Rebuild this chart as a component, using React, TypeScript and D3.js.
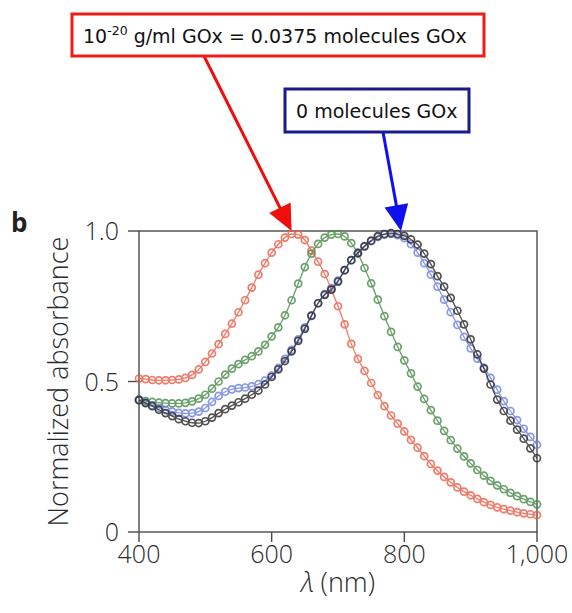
import { useRef, useEffect } from 'react'
import * as d3 from 'd3'

// wavelength grid, nm
const wavelengths = d3.range(400, 1001, 10)

// 10^-20 g/ml GOx (0.0375 molecules)
const redValues = [
  0.51, 0.508, 0.505, 0.504, 0.504, 0.505, 0.507, 0.512, 0.522, 0.54,
  0.565, 0.593, 0.624, 0.658, 0.692, 0.73, 0.77, 0.812, 0.855, 0.893,
  0.928, 0.956, 0.978, 0.99, 0.988, 0.97, 0.935, 0.898, 0.857, 0.806,
  0.75, 0.69, 0.625, 0.575, 0.535, 0.495, 0.455, 0.418, 0.387, 0.36,
  0.334, 0.306, 0.28, 0.252, 0.226, 0.204, 0.183, 0.165, 0.148, 0.134,
  0.122, 0.11, 0.099, 0.09, 0.082, 0.076, 0.071, 0.066, 0.062, 0.059,
  0.056,
]

const greenValues = [
  0.44, 0.435, 0.432, 0.43, 0.428, 0.427, 0.427, 0.429, 0.434, 0.443,
  0.456, 0.476, 0.5, 0.523, 0.543, 0.558, 0.572, 0.584, 0.6, 0.622,
  0.65, 0.68, 0.72, 0.77, 0.825, 0.88, 0.925, 0.957, 0.978, 0.988,
  0.99, 0.982, 0.96, 0.925, 0.877, 0.826, 0.772, 0.717, 0.665, 0.615,
  0.57, 0.527, 0.483, 0.442, 0.405, 0.37, 0.336, 0.305, 0.277, 0.251,
  0.228, 0.206, 0.187, 0.17, 0.155, 0.142, 0.13, 0.119, 0.109, 0.1,
  0.092,
]

const blueValues = [
  0.44, 0.43, 0.42, 0.412, 0.405, 0.4, 0.396, 0.394, 0.395, 0.4,
  0.412, 0.432, 0.452, 0.466, 0.474, 0.478, 0.48, 0.484, 0.491, 0.503,
  0.52, 0.545, 0.575, 0.605, 0.64, 0.68, 0.72, 0.76, 0.79, 0.81,
  0.835, 0.87, 0.903, 0.927, 0.948, 0.966, 0.98, 0.988, 0.99, 0.986,
  0.976, 0.956, 0.928, 0.893, 0.855, 0.815, 0.772, 0.73, 0.688, 0.648,
  0.61, 0.576, 0.546, 0.512, 0.473, 0.435, 0.402, 0.372, 0.343, 0.316,
  0.29,
]

const blackValues = [
  0.438, 0.428, 0.418, 0.406, 0.395, 0.385, 0.375, 0.368, 0.363, 0.362,
  0.368, 0.38, 0.395, 0.408, 0.42, 0.431, 0.443, 0.456, 0.47, 0.49,
  0.515, 0.54, 0.568, 0.6, 0.635, 0.675, 0.718, 0.76, 0.788, 0.805,
  0.832, 0.87, 0.903, 0.927, 0.95, 0.968, 0.983, 0.99, 0.993, 0.99,
  0.984, 0.972, 0.955, 0.925, 0.89, 0.85, 0.815, 0.778, 0.735, 0.69,
  0.64, 0.59, 0.543, 0.49, 0.44, 0.402, 0.37, 0.34, 0.31, 0.278,
  0.245,
]

const series = [
  { name: 'red', values: redValues, color: '#ee5e48' },
  { name: 'green', values: greenValues, color: '#4b8c4b' },
  { name: 'blue', values: blueValues, color: '#7080e2' },
  { name: 'black', values: blackValues, color: '#2b2b2b' },
]

const xTicks = [400, 600, 800, 1000]
const xTickLabels = ['400', '600', '800', '1,000']
const yTicks = [0, 0.5, 1.0]
const yTickLabels = ['0', '0.5', '1.0']

// peaks the callouts point at
const redPeak = 630
const bluePeak = 795

const W = 572
const H = 613
const margin = { top: 231, right: 35, bottom: 81, left: 139 }

export default function App() {
  const svgRef = useRef<SVGSVGElement>(null)

  useEffect(() => {
    if (!svgRef.current) return
    const svg = d3.select(svgRef.current)
    svg.selectAll('*').remove()

    const x = d3.scaleLinear().domain([400, 1000]).range([margin.left, W - margin.right])
    const y = d3.scaleLinear().domain([0, 1]).range([H - margin.bottom, margin.top])

    const axisColor = '#4a4a4a'
    const labelFont = '"Open Sans", "DejaVu Sans", sans-serif'
    const textColor = '#2a2a2a'

    // frame
    svg.append('rect')
      .attr('x', x(400)).attr('y', y(1))
      .attr('width', x(1000) - x(400)).attr('height', y(0) - y(1))
      .attr('fill', 'none').attr('stroke', axisColor).attr('stroke-width', 1.4)

    // y ticks
    const yAxis = svg.append('g')
    yAxis.selectAll('line').data(yTicks).join('line')
      .attr('x1', x(400) - 11).attr('x2', x(400))
      .attr('y1', (d) => y(d)).attr('y2', (d) => y(d))
      .attr('stroke', axisColor).attr('stroke-width', 1.4)
    yAxis.selectAll('text').data(yTicks).join('text')
      .attr('x', x(400) - 20).attr('y', (d) => y(d) + 9)
      .attr('text-anchor', 'end')
      .attr('font-family', labelFont).attr('font-weight', 300)
      .attr('font-size', 25).attr('fill', textColor)
      .text((_, i) => yTickLabels[i])

    // x ticks
    const xAxis = svg.append('g')
    xAxis.selectAll('line').data(xTicks).join('line')
      .attr('x1', (d) => x(d)).attr('x2', (d) => x(d))
      .attr('y1', y(0)).attr('y2', y(0) + 10)
      .attr('stroke', axisColor).attr('stroke-width', 1.4)
    xAxis.selectAll('text').data(xTicks).join('text')
      .attr('x', (d) => x(d)).attr('y', y(0) + 31)
      .attr('text-anchor', 'middle')
      .attr('font-family', labelFont).attr('font-weight', 300)
      .attr('font-size', 25).attr('fill', textColor)
      .text((_, i) => xTickLabels[i])

    // axis titles
    svg.append('text')
      .attr('x', (x(400) + x(1000)) / 2).attr('y', 592)
      .attr('text-anchor', 'middle')
      .attr('font-family', labelFont).attr('font-weight', 300)
      .attr('font-size', 27).attr('fill', textColor)
      .html('<tspan font-style="italic">λ</tspan> (nm)')

    svg.append('text')
      .attr('transform', `translate(68,${(y(0) + y(1)) / 2}) rotate(-90)`)
      .attr('text-anchor', 'middle')
      .attr('font-family', labelFont).attr('font-weight', 300)
      .attr('font-size', 27).attr('fill', textColor)
      .text('Normalized absorbance')

    svg.append('text')
      .attr('x', 11).attr('y', 232)
      .attr('font-family', labelFont).attr('font-weight', 700)
      .attr('font-size', 26).attr('fill', '#222')
      .text('b')

    // series
    const line = d3.line<number>()
      .x((_, i) => x(wavelengths[i]))
      .y((d) => y(d))
      .curve(d3.curveMonotoneX)

    series.forEach((s) => {
      const g = svg.append('g').attr('opacity', 0.82)
      g.append('path')
        .attr('d', line(s.values))
        .attr('fill', 'none').attr('stroke', s.color).attr('stroke-width', 1.3)
      g.selectAll('circle').data(s.values).join('circle')
        .attr('cx', (_, i) => x(wavelengths[i]))
        .attr('cy', (d) => y(d))
        .attr('r', 3.5)
        .attr('fill', 'none').attr('stroke', s.color).attr('stroke-width', 1.7)
    })

    // callout arrows
    const arrow = (x0: number, y0: number, x1: number, y1: number, color: string) => {
      const dx = x1 - x0
      const dy = y1 - y0
      const len = Math.hypot(dx, dy)
      const ux = dx / len
      const uy = dy / len
      const head = 26
      const half = 12
      const bx = x1 - ux * head
      const by = y1 - uy * head
      svg.append('line')
        .attr('x1', x0).attr('y1', y0).attr('x2', bx + ux * 2).attr('y2', by + uy * 2)
        .attr('stroke', color).attr('stroke-width', 3)
      svg.append('path')
        .attr('d', `M${x1},${y1}L${bx - uy * half},${by + ux * half}L${bx + uy * half},${by - ux * half}Z`)
        .attr('fill', color)
    }
    arrow(204, 56, x(redPeak), y(1), '#f20d0d')
    arrow(383, 132, x(bluePeak), y(1), '#1010ee')

    // callout boxes
    const redBox = svg.append('g')
    redBox.append('rect')
      .attr('x', 72).attr('y', 14).attr('width', 412).attr('height', 42)
      .attr('fill', '#fff').attr('stroke', '#ee1c1c').attr('stroke-width', 3)
    redBox.append('text')
      .attr('x', 83).attr('y', 43)
      .attr('font-family', '"DejaVu Sans", sans-serif').attr('font-size', 19).attr('fill', '#111')
      .html('10<tspan font-size="12.5" dy="-8">-20</tspan><tspan dy="8"> g/ml GOx = 0.0375 molecules GOx</tspan>')

    const blueBox = svg.append('g')
    blueBox.append('rect')
      .attr('x', 285).attr('y', 89).attr('width', 184).attr('height', 43)
      .attr('fill', '#fff').attr('stroke', '#1a1a8a').attr('stroke-width', 3)
    blueBox.append('text')
      .attr('x', 296).attr('y', 118)
      .attr('font-family', '"DejaVu Sans", sans-serif').attr('font-size', 19).attr('fill', '#111')
      .text('0 molecules GOx')
  }, [])

  return (
    <svg
      ref={svgRef}
      width={W}
      height={H}
      style={{ position: 'absolute', left: 0, top: 0, background: '#fff' }}
    />
  )
}
